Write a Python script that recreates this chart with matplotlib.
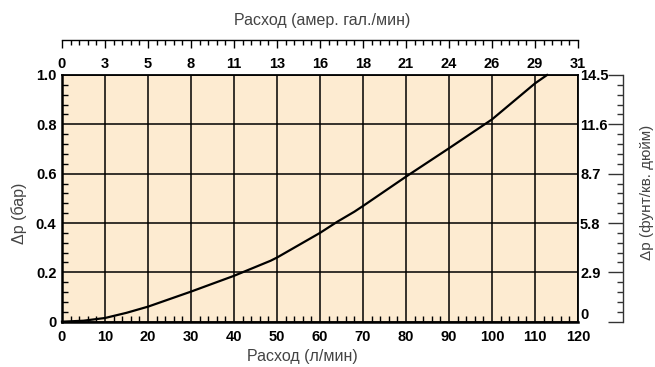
import numpy as np
import matplotlib
matplotlib.use('Agg')
import matplotlib.pyplot as plt
from matplotlib.ticker import MultipleLocator

plt.rcParams['font.family'] = ['Liberation Sans', 'DejaVu Sans']

# Data: flow (l/min) vs pressure drop (bar)
flow_lpm = [0, 5, 10, 15, 20, 30, 40, 48.5, 50, 60, 64, 68, 70, 80, 90,
            100, 110, 112.8]
dp_bar = [0, 0.004, 0.015, 0.036, 0.061, 0.122, 0.186, 0.247, 0.26, 0.36,
          0.405, 0.446, 0.469, 0.588, 0.703, 0.82, 0.966, 1.0]

bottom_ticks = [0, 10, 20, 30, 40, 50, 60, 70, 80, 90, 100, 110, 120]
gal_labels = ['0', '3', '5', '8', '11', '13', '16', '18', '21', '24', '26',
              '29', '31']
bar_ticks = [0, 0.2, 0.4, 0.6, 0.8, 1.0]
bar_labels = ['0', '0.2', '0.4', '0.6', '0.8', '1.0']
psi_labels = ['0', '2.9', '5.8', '8.7', '11.6', '14.5']

bg = '#FDEBD1'
title_color = '#444444'
W, H = 655, 367

fig = plt.figure(figsize=(W / 100, H / 100), dpi=100)
L, R = 62 / W, 578 / W
B, T = 1 - 321.7 / H, 1 - 75 / H

# Main axes
ax = fig.add_axes([L, B, R - L, T - B])
ax.set_facecolor(bg)
ax.set_xlim(0, 120)
ax.set_ylim(0, 1.0)
ax.set_xticks(bottom_ticks)
ax.set_xticklabels([str(t) for t in bottom_ticks])
ax.set_yticks(bar_ticks)
ax.set_yticklabels(bar_labels)
ax.xaxis.set_minor_locator(MultipleLocator(2))
ax.yaxis.set_minor_locator(MultipleLocator(0.04))
ax.tick_params(which='both', direction='in', colors='black',
               labelsize=10.5)
ax.tick_params(which='major', length=0)
ax.tick_params(which='minor', length=4, width=1)
ax.tick_params(axis='x', pad=6)
ax.tick_params(axis='y', pad=4)
for lab in ax.get_xticklabels() + ax.get_yticklabels():
    lab.set_fontweight('bold')
ax.grid(True, color='black', linewidth=1.1)
for s in ['left', 'bottom']:
    ax.spines[s].set_linewidth(1.8)
for s in ['top', 'right']:
    ax.spines[s].set_linewidth(1.3)

ax.plot(flow_lpm, dp_bar, color='black', linewidth=1.6, zorder=5,
        clip_on=False)

# Right labels (psi) next to the plot
ax2 = ax.twinx()
ax2.set_ylim(0, 1.0)
ax2.set_yticks(bar_ticks)
ax2.set_yticklabels(psi_labels)
ax2.tick_params(length=0, pad=1.5, labelsize=10.5)
for lab in ax2.get_yticklabels():
    lab.set_fontweight('bold')
ax2.get_yticklabels()[0].set_va('bottom')
for s in ax2.spines.values():
    s.set_visible(False)

# Top axis (US gal/min)
ax_t = fig.add_axes([L, 1 - 39.5 / H, R - L, 0.0001])
ax_t.set_facecolor('none')
for s in ['top', 'left', 'right']:
    ax_t.spines[s].set_visible(False)
ax_t.spines['bottom'].set_linewidth(1)
ax_t.set_xlim(0, 120)
ax_t.set_yticks([])
ax_t.set_xticks(bottom_ticks)
ax_t.set_xticklabels(gal_labels)
ax_t.xaxis.set_minor_locator(MultipleLocator(2))
ax_t.tick_params(axis='x', which='major', direction='out', length=6,
                 width=1, pad=6.5, labelsize=10.5)
ax_t.tick_params(axis='x', which='minor', direction='out', length=3.5,
                 width=1)
for lab in ax_t.get_xticklabels():
    lab.set_fontweight('bold')

# Right bracket axis (psi)
ax_b = fig.add_axes([623.3 / W, B, 0.0001, T - B])
ax_b.set_facecolor('none')
for s in ['top', 'bottom', 'right']:
    ax_b.spines[s].set_visible(False)
ax_b.spines['left'].set_linewidth(1)
ax_b.spines['left'].set_color('#333333')
ax_b.set_xticks([])
ax_b.set_ylim(0, 1.0)
ax_b.set_yticks(bar_ticks)
ax_b.yaxis.set_minor_locator(MultipleLocator(0.04))
ax_b.tick_params(axis='y', which='major', direction='out', length=11,
                 width=1, color='#333333', labelleft=False)
ax_b.tick_params(axis='y', which='minor', direction='out', length=4.5,
                 width=1, color='#333333', labelleft=False)

# Axis titles
fig.text(322 / W, 1 - 21 / H, 'Расход (амер. гал./мин)', ha='center',
         va='center', fontsize=11.5, color=title_color)
fig.text(302 / W, 1 - 357 / H, 'Расход (л/мин)', ha='center',
         va='center', fontsize=11.5, color=title_color)
fig.text(19 / W, 1 - 213 / H, 'Δp (бар)', ha='center', va='center',
         rotation=90, fontsize=11.5, color=title_color)
fig.text(647 / W, 1 - 192 / H, 'Δp (фунт/кв. дюйм)', ha='center',
         va='center', rotation=90, fontsize=11, color=title_color)

fig.savefig('out.png', dpi=100, facecolor='white')
